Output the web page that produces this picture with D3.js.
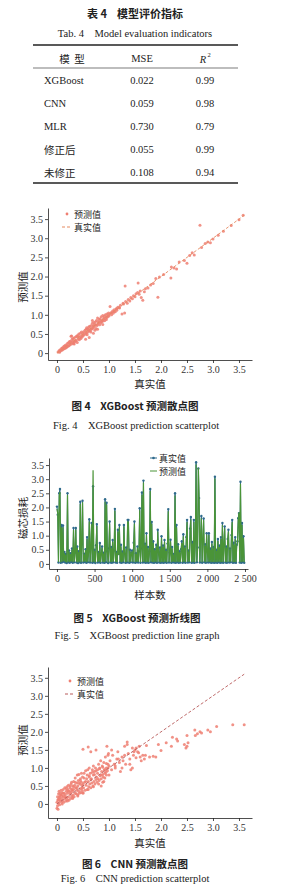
<!DOCTYPE html>
<meta charset="utf-8">
<script src="https://d3js.org/d3.v7.min.js"></script>
<style>
    body { margin: 0; background: #fff; }
    text { white-space: pre; }
    .serif { font-family: "Liberation Serif", "DejaVu Serif", serif; }
    .cjk { font-family: "Noto Sans CJK SC", sans-serif; }
    .axis text { font-family: "Liberation Serif", serif; font-size: 10px; fill: #333; }
    .axis path, .axis line { stroke: #222; stroke-width: 0.8; }
</style>
<div id="page"></div>
<script>
    // ---- table 4 ----
    var tableModels = ["XGBoost", "CNN", "MLR", "修正后", "未修正"];
    var tableMSE = ["0.022", "0.059", "0.730", "0.055", "0.108"];
    var tableR2 = ["0.99", "0.98", "0.79", "0.99", "0.94"];

    // ---- fig 4 : XGBoost scatter (true, predicted) ----
    var xgbTrue = [0.02, 0.04, 0.05, 0.06, 0.08, 0.09, 0.10, 0.11, 0.12, 0.13, 0.14, 0.15, 0.16, 0.17, 0.18, 0.19, 0.20, 0.21, 0.22, 0.23, 0.24, 0.25, 0.26, 0.27, 0.28, 0.29, 0.30, 0.31, 0.32, 0.33, 0.34, 0.35, 0.36, 0.37, 0.38, 0.39, 0.40, 0.41, 0.42, 0.43, 0.44, 0.45, 0.46, 0.47, 0.48, 0.49,
        0.50, 0.51, 0.52, 0.54, 0.55, 0.56, 0.57, 0.58, 0.59, 0.60, 0.61, 0.62, 0.63, 0.64, 0.65, 0.66, 0.67, 0.68, 0.69, 0.70, 0.71, 0.72, 0.73, 0.74, 0.75, 0.76, 0.77, 0.78, 0.79, 0.80, 0.81, 0.82, 0.83, 0.84, 0.85, 0.86, 0.87, 0.88, 0.89, 0.90, 0.91, 0.92, 0.93, 0.94, 0.95, 0.96, 0.97, 0.98, 0.99,
        0.55, 0.62, 0.70, 0.78,
        0.05, 0.10, 0.15, 0.20, 0.25, 0.30, 0.35, 0.40, 0.45, 0.50, 0.55, 0.60, 0.65, 0.70, 0.75, 0.80, 0.85, 0.90, 0.95, 1.00, 1.05, 1.10, 1.15, 1.20, 0.28, 0.33, 0.58, 0.68, 0.73, 0.88,
        1.00, 1.02, 1.03, 1.05, 1.07, 1.08, 1.10, 1.12, 1.14, 1.15, 1.17, 1.20, 1.22, 1.25, 1.27, 1.28, 1.30, 1.32, 1.35, 1.37, 1.40, 1.42, 1.45, 1.47, 1.50, 1.52, 1.55, 1.58, 1.60,
        1.31, 1.56, 1.65, 1.62, 1.70, 1.75, 1.68, 1.80,
        1.85, 1.90, 1.94, 1.97, 2.05, 2.19, 2.20, 2.25, 2.30, 2.35, 2.45, 2.50, 2.55, 2.60, 2.64, 2.75, 2.78, 2.85, 2.90, 2.95, 3.00, 3.10, 3.20, 3.35, 3.50, 3.58];
    var xgbPred = [0.03, 0.06, 0.02, 0.09, 0.07, 0.13, 0.08, 0.14, 0.10, 0.17, 0.12, 0.19, 0.13, 0.21, 0.15, 0.16, 0.25, 0.18, 0.27, 0.19, 0.30, 0.22, 0.31, 0.44, 0.24, 0.36, 0.27, 0.38, 0.25, 0.40, 0.30, 0.31, 0.42, 0.33, 0.45, 0.28, 0.46, 0.37, 0.50, 0.35, 0.40, 0.52, 0.38, 0.55, 0.42, 0.47,
        0.45, 0.56, 0.48, 0.60, 0.50, 0.62, 0.66, 0.53, 0.63, 0.57, 0.68, 0.58, 0.70, 0.60, 0.55, 0.72, 0.63, 0.78, 0.65, 0.68, 0.80, 0.70, 0.75, 0.82, 0.64, 0.85, 0.72, 0.92, 0.76, 0.80, 0.88, 0.74, 0.90, 0.79, 0.95, 0.82, 0.86, 0.98, 0.84, 0.90, 0.96, 0.85, 1.00, 0.91, 0.88, 1.02, 0.94, 0.97, 1.05,
        0.36, 0.41, 0.52, 0.62,
        0.05, 0.11, 0.16, 0.19, 0.26, 0.31, 0.33, 0.42, 0.44, 0.52, 0.54, 0.62, 0.64, 0.72, 0.74, 0.82, 0.84, 0.92, 0.94, 1.01, 1.06, 1.09, 1.16, 1.19, 0.45, 0.24, 0.48, 0.85, 0.60, 0.75,
        0.97, 1.22, 1.05, 1.00, 1.10, 1.04, 1.13, 1.08, 1.16, 1.12, 1.20, 1.18, 1.25, 1.02, 1.30, 1.28, 1.05, 1.35, 1.30, 1.40, 1.36, 1.45, 1.42, 1.50, 1.47, 1.55, 1.58, 1.54, 1.62,
        1.75, 1.83, 1.38, 1.45, 1.68, 1.70, 1.60, 1.78,
        1.82, 1.95, 1.46, 1.99, 2.05, 1.96, 2.25, 2.22, 2.20, 2.38, 2.42, 2.35, 2.55, 2.62, 2.56, 3.34, 2.76, 2.86, 2.90, 2.88, 2.98, 3.08, 3.18, 3.33, 3.48, 3.60];

    // ---- fig 5 : XGBoost line graph, one value every 10 samples ----
    var sampleStep = 10;
    var lossTrue = [
        2.03, 1.74, 0.05, 2.50, 2.65, 0.04, 1.38, 0.06, 1.36, 0.08,
        0.42, 0.05, 0.35, 0.03, 2.50, 0.06, 0.48, 0.04, 0.38, 0.07,
        0.55, 0.04, 1.27, 0.06, 0.40, 1.27, 0.05, 0.62, 0.03, 0.45,
        0.06, 2.20, 0.04, 0.70, 2.24, 0.05, 0.36, 0.07, 0.52, 0.04,
        0.95, 0.06, 0.44, 1.58, 0.05, 0.58, 1.45, 0.04, 2.75, 0.06,
        0.50, 0.03, 0.66, 1.41, 0.05, 0.42, 0.06, 0.74, 0.04, 0.38,
        0.62, 0.05, 0.40, 0.04, 2.29, 0.06, 2.17, 0.45, 0.03, 0.55,
        1.50, 0.05, 0.60, 0.04, 0.85, 0.06, 0.48, 1.95, 0.05, 0.42,
        0.04, 1.21, 0.35, 1.38, 0.05, 0.68, 0.04, 0.44, 0.06, 1.38,
        0.36, 0.04, 0.58, 0.05, 1.56, 1.56, 0.04, 0.50, 0.06, 0.40,
        0.48, 0.05, 0.75, 1.50, 0.04, 0.38, 0.06, 0.62, 0.05, 0.45,
        1.97, 0.04, 0.55, 2.53, 0.05, 2.95, 0.06, 0.72, 0.04, 1.09,
        0.05, 0.60, 0.04, 0.45, 2.65, 0.06, 1.49, 0.05, 0.80, 0.04,
        0.52, 0.06, 0.68, 0.04, 1.21, 0.42, 0.05, 0.58, 0.04, 0.98,
        0.05, 0.65, 0.04, 0.85, 0.06, 0.50, 0.04, 0.72, 1.94, 0.05,
        0.40, 0.86, 0.04, 0.60, 0.06, 0.35, 0.05, 2.50, 0.04, 1.38,
        0.06, 0.70, 0.04, 0.45, 0.05, 0.52, 0.80, 0.04, 1.05, 0.06,
        0.62, 0.04, 0.95, 1.56, 0.05, 0.48, 0.06, 1.25, 1.66, 0.04,
        0.78, 0.05, 1.56, 0.04, 0.82, 3.60, 0.06, 0.58, 3.38, 2.33,
        0.05, 0.98, 1.70, 0.04, 0.88, 1.61, 0.06, 0.70, 0.04, 1.09,
        0.45, 0.05, 1.09, 0.06, 0.55, 0.04, 0.78, 0.05, 0.60, 0.04,
        3.09, 0.05, 0.50, 0.04, 0.88, 0.06, 0.65, 0.04, 0.95, 0.05,
        1.45, 0.04, 0.70, 1.33, 0.05, 0.62, 0.04, 0.88, 1.21, 0.05,
        0.55, 0.06, 1.02, 1.56, 0.04, 0.75, 0.05, 0.95, 0.04, 0.68,
        0.80, 1.62, 1.80, 0.05, 2.91, 0.04, 1.45, 0.06, 0.98, 0.04];
    var lossPred = [
        1.95, 1.80, 0.07, 2.42, 2.55, 0.06, 1.30, 0.08, 1.30, 0.10,
        0.38, 0.07, 0.32, 0.05, 2.45, 0.08, 0.44, 0.06, 0.35, 0.09,
        0.50, 0.06, 1.20, 0.08, 0.37, 1.22, 0.07, 0.56, 0.05, 0.42,
        0.08, 2.12, 0.06, 0.64, 2.18, 0.07, 0.33, 0.09, 0.48, 0.06,
        0.88, 0.08, 0.40, 1.50, 0.07, 0.54, 1.40, 0.06, 3.32, 0.08,
        0.46, 0.05, 0.60, 1.35, 0.07, 0.39, 0.08, 0.68, 0.06, 0.35,
        0.57, 0.07, 0.37, 0.06, 2.20, 0.08, 2.10, 0.41, 0.05, 0.50,
        1.42, 0.07, 0.55, 0.06, 0.78, 0.08, 0.44, 1.88, 0.07, 0.39,
        0.06, 1.15, 0.32, 1.30, 0.07, 0.62, 0.06, 0.40, 0.08, 1.32,
        0.33, 0.06, 0.53, 0.07, 1.50, 1.48, 0.06, 0.46, 0.08, 0.37,
        0.44, 0.07, 0.69, 1.42, 0.06, 0.35, 0.08, 0.57, 0.07, 0.41,
        1.90, 0.06, 0.50, 2.45, 0.07, 2.88, 0.08, 0.66, 0.06, 1.02,
        0.07, 0.55, 0.06, 0.41, 2.58, 0.08, 1.42, 0.07, 0.74, 0.06,
        0.48, 0.08, 0.62, 0.06, 1.15, 0.39, 0.07, 0.53, 0.06, 0.92,
        0.07, 0.60, 0.06, 0.78, 0.08, 0.46, 0.06, 0.66, 1.86, 0.07,
        0.37, 0.80, 0.06, 0.55, 0.08, 0.32, 0.07, 2.42, 0.06, 1.30,
        0.08, 0.64, 0.06, 0.41, 0.07, 0.48, 0.74, 0.06, 0.98, 0.08,
        0.57, 0.06, 0.88, 1.48, 0.07, 0.44, 0.08, 1.18, 1.58, 0.06,
        0.72, 0.07, 1.48, 0.06, 0.76, 3.52, 0.08, 0.53, 3.40, 2.25,
        0.07, 0.90, 1.62, 0.06, 0.81, 1.55, 0.08, 0.64, 0.06, 1.04,
        0.41, 0.07, 1.02, 0.08, 0.50, 0.06, 0.72, 0.07, 0.55, 0.06,
        3.02, 0.07, 0.46, 0.06, 0.81, 0.08, 0.60, 0.06, 0.88, 0.07,
        1.38, 0.06, 0.64, 1.26, 0.07, 0.57, 0.06, 0.81, 1.15, 0.07,
        0.50, 0.08, 0.94, 1.48, 0.06, 0.69, 0.07, 0.88, 0.06, 0.62,
        0.74, 1.55, 1.82, 0.07, 2.84, 0.06, 1.38, 0.08, 0.92, 0.06];

    // ---- fig 6 : CNN scatter (true, predicted) ----
    var cnnTrue = [0.00, 0.00, 0.01, 0.01, 0.02, 0.02, 0.03, 0.03, 0.04, 0.04, 0.05, 0.05, 0.06, 0.06, 0.07, 0.08, 0.08, 0.09, 0.10, 0.10,
        0.11, 0.12, 0.12, 0.13, 0.14, 0.15, 0.15, 0.16, 0.17, 0.18, 0.18, 0.19, 0.20, 0.20, 0.21, 0.22, 0.22, 0.23, 0.24, 0.25, 0.25, 0.26, 0.27, 0.27, 0.28, 0.28, 0.29, 0.30, 0.30, 0.30,
        0.31, 0.32, 0.32, 0.33, 0.34, 0.35, 0.35, 0.36, 0.37, 0.38, 0.38, 0.39, 0.40, 0.40, 0.41, 0.42, 0.42, 0.43, 0.44, 0.45, 0.45, 0.46, 0.47, 0.47, 0.48, 0.48, 0.49, 0.50, 0.50, 0.50,
        0.51, 0.52, 0.53, 0.54, 0.55, 0.56, 0.57, 0.58, 0.59, 0.60, 0.60, 0.61, 0.62, 0.62, 0.63, 0.64, 0.65, 0.65, 0.66, 0.67, 0.68, 0.69, 0.70, 0.70, 0.71, 0.72, 0.73, 0.74, 0.75, 0.75, 0.76, 0.77, 0.78, 0.79, 0.80,
        0.81, 0.82, 0.83, 0.84, 0.85, 0.86, 0.87, 0.88, 0.89, 0.90, 0.91, 0.92, 0.93, 0.94, 0.95, 0.96, 0.97, 0.98, 0.99, 1.00, 0.85, 0.88, 0.92, 0.95, 0.98,
        0.02, 0.05, 0.08, 0.12, 0.15, 0.18, 0.22, 0.25, 0.28, 0.32, 0.35, 0.38, 0.42, 0.45, 0.48, 0.52, 0.55, 0.58, 0.62, 0.65, 0.68, 0.72, 0.75, 0.78, 0.82, 0.85, 0.88, 0.92, 0.95, 0.98, 0.10, 0.20, 0.30, 0.40, 0.50, 0.60, 0.70, 0.80, 0.90, 1.00,
        1.02, 1.05, 1.07, 1.10, 1.12, 1.15, 1.17, 1.20, 1.22, 1.25, 1.27, 1.30, 1.32, 1.35, 1.37, 1.40, 1.42, 1.45, 1.47, 1.50, 1.05, 1.12, 1.18, 1.25, 1.30, 1.35, 1.40, 1.45, 1.48, 1.52,
        1.55, 1.58, 1.60, 1.62, 1.65, 1.70, 1.72, 1.78, 1.85, 1.90, 1.95, 2.00, 1.52, 1.57, 1.68,
        2.20, 2.22, 2.30, 2.32, 2.45, 2.48, 2.50, 2.50, 2.52, 2.65, 2.66, 2.70, 2.75, 2.78, 2.90, 2.95, 3.07, 3.38, 3.60, 2.10];
    var cnnPred = [-0.12, 0.05, -0.05, 0.20, 0.10, -0.15, 0.28, 0.02, 0.15, 0.35, -0.02, 0.22, 0.08, 0.30, 0.12, 0.25, 0.38, 0.05, 0.18, 0.32,
        0.10, 0.40, 0.22, 0.05, 0.30, 0.15, 0.45, 0.25, 0.08, 0.35, 0.18, 0.48, 0.12, 0.30, 0.40, 0.20, 0.52, 0.10, 0.35, 0.28, 0.45, 0.15, 0.55, 0.32, 0.22, 0.60, 0.40, 0.18, 0.50, 0.35,
        0.25, 0.62, 0.40, 0.20, 0.52, 0.30, 0.72, 0.45, 0.28, 0.58, 0.38, 0.80, 0.25, 0.50, 0.65, 0.35, 0.82, 0.30, 0.55, 0.42, 0.70, 0.32, 0.60, 0.85, 0.45, 0.38, 0.75, 0.30, 0.55, 1.52,
        0.45, 0.85, 0.60, 0.38, 0.92, 0.52, 0.70, 0.40, 0.95, 0.62, 1.58, 0.48, 0.78, 1.00, 0.55, 0.85, 0.45, 1.45, 0.70, 0.58, 0.95, 0.50, 0.80, 1.05, 0.62, 0.90, 0.55, 1.00, 0.68, 1.50, 0.75, 0.60, 0.95, 0.70, 1.10,
        0.65, 1.00, 0.78, 1.20, 0.70, 0.90, 1.05, 0.82, 0.75, 1.15, 0.95, 0.85, 1.30, 0.88, 1.00, 1.60, 0.92, 1.10, 1.40, 1.05, 0.50, 0.60, 0.72, 0.80, 1.35,
        0.12, 0.18, 0.25, 0.30, 0.20, 0.42, 0.35, 0.50, 0.40, 0.48, 0.60, 0.45, 0.58, 0.65, 0.52, 0.72, 0.62, 0.80, 0.75, 0.68, 0.88, 0.82, 0.92, 0.85, 0.98, 0.80, 1.02, 0.95, 1.12, 1.00, 0.00, 0.08, 0.15, 0.22, 0.32, 0.40, 0.48, 0.55, 0.62, 0.80,
        1.20, 0.95, 1.35, 1.10, 1.00, 1.25, 1.45, 1.15, 0.90, 1.30, 1.20, 1.60, 1.10, 1.72, 1.40, 1.25, 0.95, 1.55, 1.35, 1.50, 1.50, 1.05, 1.25, 1.00, 1.35, 1.65, 1.10, 1.00, 1.45, 1.55,
        1.45, 1.60, 1.30, 1.20, 1.35, 1.35, 1.62, 1.30, 1.32, 1.30, 1.65, 1.48, 1.28, 1.42, 1.25,
        1.60, 1.85, 1.80, 1.75, 1.65, 1.55, 1.90, 1.60, 1.70, 2.05, 1.90, 1.95, 2.00, 1.97, 2.05, 2.00, 2.15, 2.20, 2.20, 1.70];

    // tick values
    var valueTicks = [0, 0.5, 1.0, 1.5, 2.0, 2.5, 3.0, 3.5];
    var sampleTicks = [0, 500, 1000, 1500, 2000, 2500];
    var diagRange = [0, 3.6];

    var W = 286, H = 892;
    var pointColor = "#ef7f72";

    var svg = d3.select("#page").append("svg")
        .attr("width", W)
        .attr("height", H)
        .style("background", "#fff");

    function txt(x, y, s, cls, size, opts) {
        opts = opts || {};
        return svg.append("text")
            .attr("x", x).attr("y", y)
            .attr("class", cls)
            .attr("font-size", size)
            .attr("text-anchor", opts.anchor || "middle")
            .attr("dominant-baseline", "central")
            .attr("font-weight", opts.weight || "normal")
            .attr("fill", opts.fill || "#222")
            .text(s);
    }

    // ---------------- table ----------------
    txt(135, 13, "表 4    模型评价指标", "cjk", 11, { weight: "bold" });
    txt(135, 33, "Tab. 4    Model evaluation indicators", "serif", 10.5);

    var rule = function (y, w) {
        svg.append("line").attr("x1", 33).attr("x2", 238).attr("y1", y).attr("y2", y)
            .attr("stroke", "#222").attr("stroke-width", w);
    };
    rule(45, 1.3);
    rule(68, 0.6);
    rule(183, 1.3);

    var colX = { model: 72, mse: 142, r2: 205 };
    txt(colX.model, 58, "模  型", "cjk", 10.5);
    txt(colX.mse, 58, "MSE", "serif", 10.5);
    var r2h = txt(colX.r2 - 2, 59, "R", "serif", 10.5);
    r2h.attr("font-style", "italic");
    txt(colX.r2 + 4, 54, "2", "serif", 6.5);

    var rowY = d3.scalePoint().domain(tableModels).range([80, 172]);
    tableModels.forEach(function (m, i) {
        var isLatin = /^[A-Za-z]/.test(m);
        txt(44, rowY(m), m, isLatin ? "serif" : "cjk", 10.5, { anchor: "start" });
        txt(colX.mse, rowY(m), tableMSE[i], "serif", 10.5);
        txt(colX.r2, rowY(m), tableR2[i], "serif", 10.5);
    });

    // ---------------- axis helper ----------------
    function fmtVal(d) { return d === 0 ? "0" : d.toFixed(1); }
    function fmtSample(d) { return d >= 1000 ? Math.floor(d / 1000) + " " + d3.format("03d")(d % 1000) : String(d); }

    function drawAxes(x, y, xTicks, xFmt) {
        var yr = y.range(), xr = x.range();
        svg.append("g").attr("class", "axis")
            .attr("transform", "translate(0," + yr[0] + ")")
            .call(d3.axisBottom(x).tickValues(xTicks).tickFormat(xFmt).tickSizeInner(3).tickSizeOuter(0).tickPadding(3));
        svg.append("g").attr("class", "axis")
            .attr("transform", "translate(" + xr[0] + ",0)")
            .call(d3.axisLeft(y).tickValues(valueTicks).tickFormat(fmtVal).tickSizeInner(3).tickSizeOuter(0).tickPadding(2));
    }

    function axisTitles(xLabel, xLabelY, yLabel, yLabelY) {
        txt(150, xLabelY, xLabel, "cjk", 10.5);
        txt(22, yLabelY, yLabel, "cjk", 10.5).attr("transform", "rotate(-90,22," + yLabelY + ")");
    }

    // ---------------- scatter panels ----------------
    var legendGap = 13, legendSize = 9;

    function scatter(opt) {
        var x = d3.scaleLinear().domain([-0.173, 3.75]).range([48, 252]);
        var y = d3.scaleLinear().domain(opt.yDomain).range(opt.yRange);
        drawAxes(x, y, valueTicks, fmtVal);

        var g = svg.append("g");
        g.selectAll("circle")
            .data(opt.trueVals)
            .enter().append("circle")
            .attr("cx", function (d) { return x(d); })
            .attr("cy", function (d, i) { return y(opt.predVals[i]); })
            .attr("r", opt.r)
            .attr("fill", pointColor)
            .attr("fill-opacity", 0.85);

        // reference line true = true
        g.append("line")
            .attr("x1", x(diagRange[0])).attr("y1", y(diagRange[0]))
            .attr("x2", x(diagRange[1])).attr("y2", y(diagRange[1]))
            .attr("stroke", opt.lineColor)
            .attr("stroke-width", 0.9)
            .attr("stroke-dasharray", "3,2");

        // legend
        var lx = opt.legend[0], ly = opt.legend[1];
        svg.append("circle").attr("cx", lx + 4).attr("cy", ly).attr("r", 1.4).attr("fill", pointColor);
        txt(lx + 11, ly, "预测值", "cjk", legendSize, { anchor: "start" });
        svg.append("line").attr("x1", lx - 1).attr("x2", lx + 9).attr("y1", ly + legendGap).attr("y2", ly + legendGap)
            .attr("stroke", opt.lineColor).attr("stroke-width", 1).attr("stroke-dasharray", "3,2");
        txt(lx + 11, ly + legendGap, "真实值", "cjk", legendSize, { anchor: "start" });
    }

    scatter({
        trueVals: xgbTrue, predVals: xgbPred,
        yDomain: [-0.18, 3.79], yRange: [360, 208],
        r: 1.5, lineColor: "#e58a60", legend: [63, 214]
    });
    axisTitles("真实值", 383, "预测值", 287);
    txt(135, 405, "图 4    XGBoost 预测散点图", "cjk", 10.5, { weight: "bold" });
    txt(136, 425, "Fig. 4    XGBoost prediction scatterplot", "serif", 10.5);

    // ---------------- line graph ----------------
    (function () {
        var x = d3.scaleLinear().domain([-106, 2540]).range([49, 248]);
        var y = d3.scaleLinear().domain([-0.18, 3.75]).range([569, 458]);
        drawAxes(x, y, sampleTicks, fmtSample);

        var line = d3.line()
            .x(function (d, i) { return x(i * sampleStep); })
            .y(function (d) { return y(d); });

        var blue = "#2f6a8c", green = "#4a9438";
        svg.append("path").datum(lossTrue)
            .attr("d", line).attr("fill", "none")
            .attr("stroke", blue).attr("stroke-width", 1.0);
        svg.append("g").selectAll("circle")
            .data(lossTrue).enter().append("circle")
            .attr("cx", function (d, i) { return x(i * sampleStep); })
            .attr("cy", function (d) { return y(d); })
            .attr("r", 1.2)
            .attr("fill", blue);
        svg.append("path").datum(lossPred)
            .attr("d", line).attr("fill", "none")
            .attr("stroke", green).attr("stroke-width", 1.2)
            .attr("stroke-linejoin", "bevel");

        // legend
        svg.append("line").attr("x1", 150).attr("x2", 157).attr("y1", 458).attr("y2", 458)
            .attr("stroke", blue).attr("stroke-width", 1);
        svg.append("circle").attr("cx", 153.5).attr("cy", 458).attr("r", 1.3).attr("fill", blue);
        txt(159, 458, "真实值", "cjk", legendSize, { anchor: "start" });
        svg.append("line").attr("x1", 150).attr("x2", 157).attr("y1", 458 + legendGap).attr("y2", 458 + legendGap)
            .attr("stroke", green).attr("stroke-width", 1);
        txt(159, 458 + legendGap, "预测值", "cjk", legendSize, { anchor: "start" });
    })();
    axisTitles("样本数", 594, "磁芯损耗", 518);
    txt(137, 617, "图 5    XGBoost 预测折线图", "cjk", 10.5, { weight: "bold" });
    txt(137, 635, "Fig. 5    XGBoost prediction line graph", "serif", 10.5);

    scatter({
        trueVals: cnnTrue, predVals: cnnPred,
        yDomain: [-0.39, 3.8], yRange: [818, 667],
        r: 1.5, lineColor: "#b85a5a", legend: [66, 681]
    });
    axisTitles("真实值", 842, "预测值", 740);
    txt(135, 863, "图 6    CNN 预测散点图", "cjk", 10.5, { weight: "bold" });
    txt(135, 878, "Fig. 6    CNN prediction scatterplot", "serif", 10.5);
</script>
